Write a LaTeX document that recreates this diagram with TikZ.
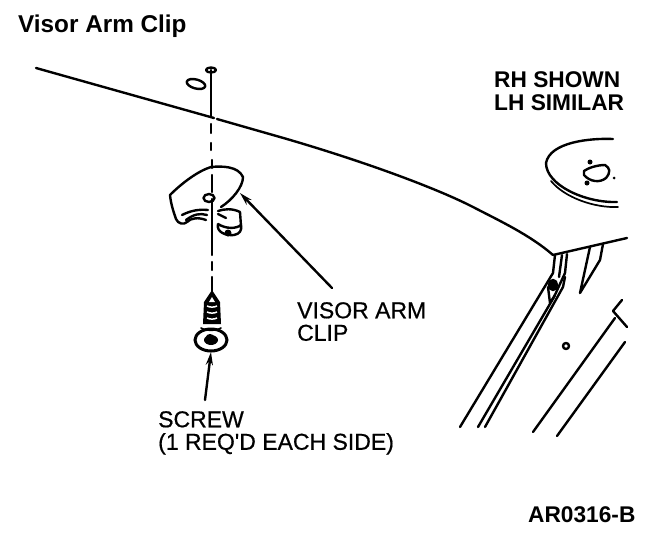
\documentclass[tikz,border=0pt]{standalone}
\usepackage{fontspec}
\setmainfont{Liberation Sans}
\newfontfamily\calloutfont[FakeBold=0.6]{Liberation Sans}
\usetikzlibrary{arrows.meta}
\tikzset{
    ink/.style={draw=black, line width=2.4pt, line join=round, line cap=round},
    thinink/.style={draw=black, line width=1.7pt, line join=round, line cap=round},
    leader/.style={ink, -{Stealth[length=13pt,width=7pt]}},
    callout/.style={anchor=north west, align=left, inner sep=0pt, font=\fontsize{23}{22.5}\selectfont\calloutfont},
    heading/.style={anchor=north west, align=left, inner sep=0pt, font=\fontsize{22.7}{23}\selectfont\bfseries},
    titletext/.style={anchor=west, inner sep=0pt, font=\fontsize{24.3}{24.3}\selectfont\bfseries}
}
\begin{document}
\begin{tikzpicture}[x=1pt, y=-1pt]
    \useasboundingbox[fill=white] (0,0) rectangle (672,536);

    % roof edge
    \draw[ink] (36,68) -- (214,118);
    \draw[ink] (217,119) -- (280,137) .. controls (370,163) and (440,190) .. (473,207)
        .. controls (500,221) and (530,235) .. (553,255);

    % bolt axis
    \draw[ink] (211,70) -- (211,117);
    \draw[ink] (211,124) -- (211,133);
    \draw[ink] (211,143) -- (211,150);
    \draw[ink] (212,160) -- (212,168);
    \draw[ink] (212,175) -- (212,192);
    \draw[ink] (212,199) -- (212,255);
    \draw[ink] (212,262) -- (212,270);
    \draw[ink] (212,277) -- (212,295);
    \draw[ink] (211,70) ellipse[x radius=5, y radius=2.5];
    \draw[ink, rotate around={-15:(196,84)}] (196,84) ellipse[x radius=9.5, y radius=4.5];

    % clip
    \draw[ink] (211,167) .. controls (222,166) and (238,166) .. (243,177)
        .. controls (243,187) and (232,200) .. (221,207);
    \draw[ink] (211,167) .. controls (198,171) and (182,183) .. (170,195)
        .. controls (171,205) and (174,213) .. (176,219) .. controls (178,224) and (184,225) .. (187,222)
        .. controls (191,218) and (198,217) .. (206,220);
    \draw[ink] (182,215) .. controls (190,211) and (198,209) .. (208,210);
    \draw[ink] (186,220) .. controls (194,214) and (200,213) .. (207,215);
    \draw[ink] (218,211) .. controls (224,209) and (232,208) .. (240,212) -- (241,226);
    \draw[ink] (218,214) -- (226,218);
    \draw[ink] (218,224) .. controls (216,232) and (226,236) .. (234,235) .. controls (240,234) and (242,230) .. (241,225)
        .. controls (236,229) and (226,229) .. (218,224);
    \fill[black] (228,233) circle[radius=3.5];
    \draw[ink] (209,198) ellipse[x radius=5.5, y radius=4];

    % screw
    \fill[black] (212,290) -- (204,302) -- (203,324) -- (221,324) -- (220,302) -- cycle;
    \foreach \yy in {306,312,318} {
        \draw[white, line width=1.5pt] (207,\yy) .. controls (210,\yy+1.5) and (214,\yy+1.5) .. (217,\yy);
    }
    \fill[white] (212,297) -- (209,302) -- (215,302) -- cycle;
    \draw[draw=black, line width=3pt, fill=white] (211,340) ellipse[x radius=16, y radius=11];
    \draw[thinink] (201,328) .. controls (206,331) and (216,331) .. (221,328);
    \fill[black] (211,340) ellipse[x radius=7, y radius=5];
    \fill[black] (210,337) ellipse[x radius=4, y radius=3];

    % lamp disc
    \draw[ink] (613,139) .. controls (590,138) and (550,142) .. (546,163)
        .. controls (546,185) and (585,203) .. (617,202);
    \draw[thinink] (551,181) .. controls (565,198) and (595,208) .. (618,207);
    \draw[ink] (584,171) .. controls (588,168) and (597,165) .. (605,165)
        .. controls (610,168) and (611,172) .. (606,178) .. controls (600,183) and (590,182) .. (584,175) -- cycle;
    \fill[black] (590,162) circle[radius=2.5];
    \fill[black] (587,183) circle[radius=2.5];
    \fill[black] (614,178) circle[radius=1.5];

    % pillar
    \draw[ink] (553,255) -- (627,238);
    \draw[ink] (590,247) -- (580,293) -- (600,260) -- (603,244);
    \draw[ink] (555,255) -- (553,273) -- (460,427);
    \draw[ink] (567,254) -- (565,273) -- (554,297) -- (478,427);
    \draw[ink] (562,255) -- (559,277);
    \draw[ink] (565,277) -- (563,287) -- (485,427);
    \draw[ink] (548,287) -- (550,303) -- (555,295);
    \draw[ink, fill=black] (553,285) ellipse[x radius=4, y radius=5];
    \draw[ink] (566,346) circle[radius=3];
    \draw[ink] (533,432) -- (615,318);
    \draw[ink] (622,300) -- (613,311) -- (627,327);
    \draw[ink] (557,436) -- (625,342);

    % labels
    \node[titletext] (title) at (18,26) {Visor Arm Clip};
    \node[heading] (sidenote) at (494,71) {RH SHOWN\\LH SIMILAR};
    \node[heading] (partno) at (528,506) {AR0316-B};
    \node[callout] (cliplabel) at (297,302) {VISOR ARM\\CLIP};
    \node[callout] (screwlabel) at (158,411) {SCREW\\(1 REQ'D EACH SIDE)};

    \coordinate (cliptip) at (240,193);
    \coordinate (clipfoot) at (332,288);
    \coordinate (screwtip) at (211,352);
    \coordinate (screwfoot) at (205,400);
    \draw[leader] (clipfoot) -- (cliptip);
    \draw[leader] (screwfoot) -- (screwtip);
\end{tikzpicture}
\end{document}
